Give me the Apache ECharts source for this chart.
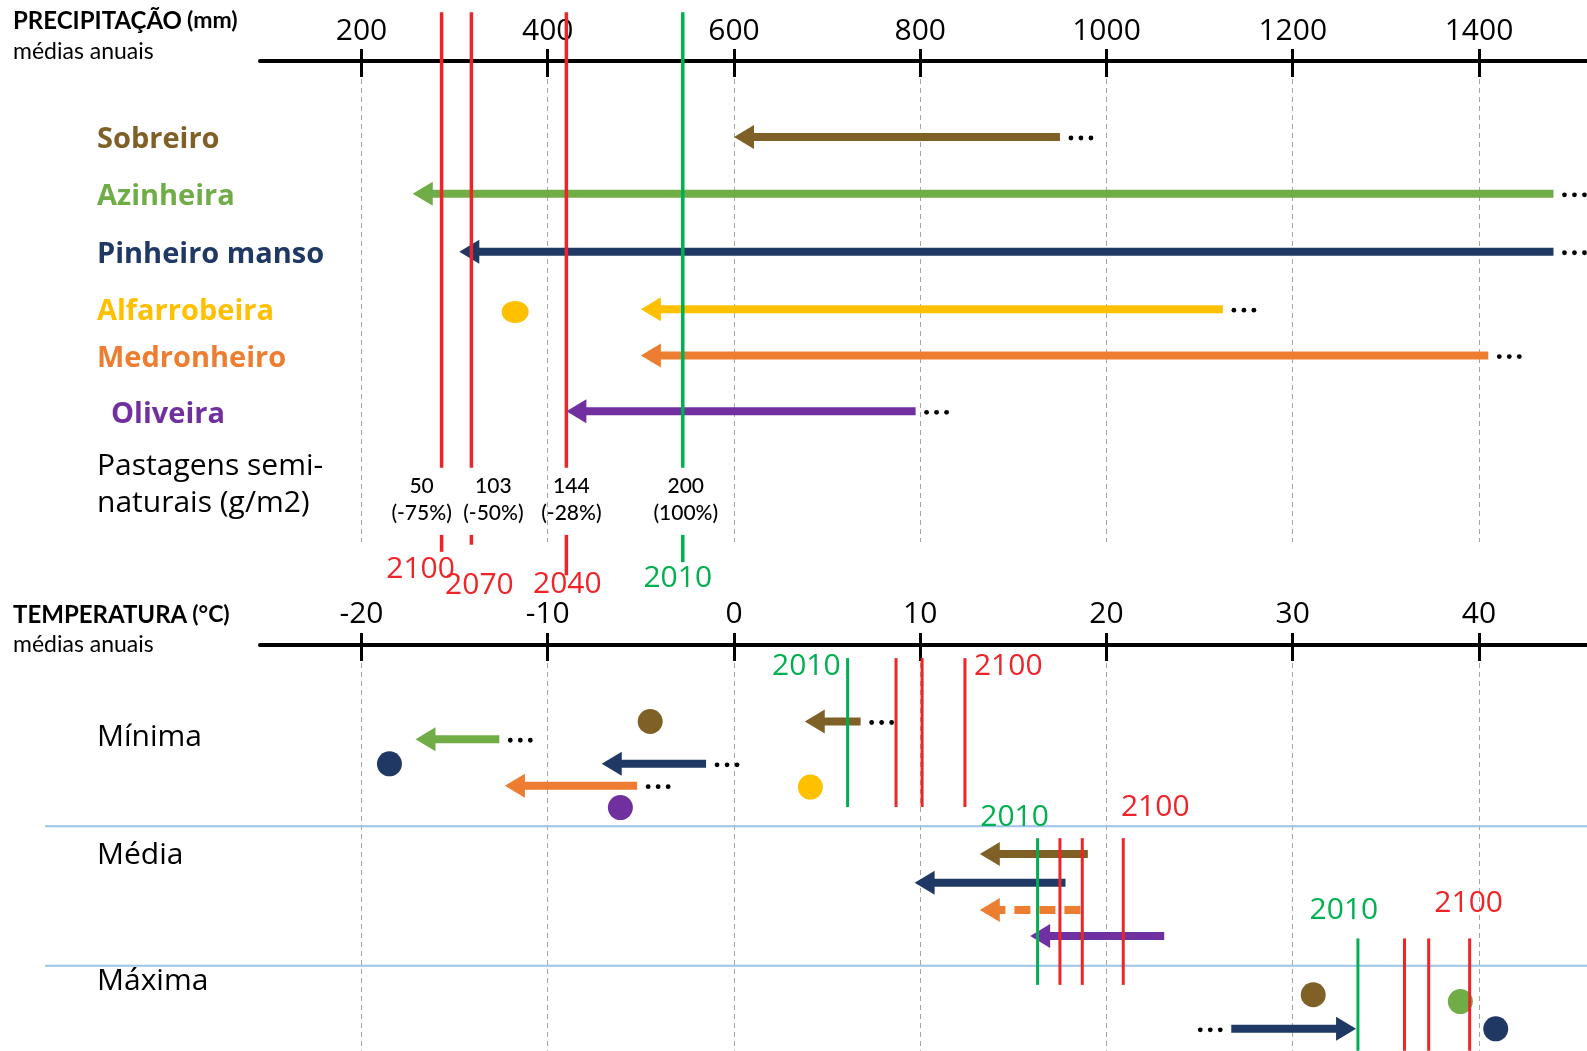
<!DOCTYPE html>
<html><head><meta charset="utf-8">
<script src="https://cdn.jsdelivr.net/npm/echarts@6/dist/echarts.min.js"></script>
<style>html,body{margin:0;padding:0;background:#fff}#c{width:1587px;height:1051px}</style>
</head><body><div id="c"></div>
<script>
// ================= DATA =================
const precipTicks = [200, 400, 600, 800, 1000, 1200, 1400];
const tempTicks = [-20, -10, 0, 10, 20, 30, 40];
const species = ['Sobreiro', 'Azinheira', 'Pinheiro manso', 'Alfarrobeira', 'Medronheiro', 'Oliveira'];
const speciesRow = [1, 2.04, 3.1, 4.15, 5, 6.02];
// precipitation (mm): upper value (open-ended "...") -> lower limit (arrow head)
const precipUpper = [950, 1480, 1480, 1125, 1410, 795];
const precipLower = [600, 255, 305, 500, 500, 420];
// isolated points: [species, mm, row]
const precipDots = [[3, 365, 4.2]];
// Pastagens semi-naturais (g/m2)
const pastYears = ['2100', '2070', '2040', '2010'];
const pastValues = [50, 103, 144, 200];
const pastChange = ['-75%', '-50%', '-28%', '100%'];
const pastPosition = [286, 318, 420, 545];
// Temperature
const sectionNames = ['Mínima', 'Média', 'Máxima'];
const sectionRow = [3.37, 7.7, 12.33];
// arrows: [species, from °C, to °C (head), row, open-ended, dashed]
const tempMinArrows = [[0, 6.8, 3.8, 2.8, 1, 0], [1, -12.6, -17.1, 3.45, 1, 0], [2, -1.5, -7.1, 4.35, 1, 0], [4, -5.2, -12.3, 5.15, 1, 0]];
const tempMeanArrows = [[0, 19.0, 13.2, 7.65, 0, 0], [2, 17.8, 9.7, 8.7, 0, 0], [4, 18.6, 13.2, 9.7, 0, 1], [5, 23.1, 15.9, 10.65, 0, 0]];
const tempMaxArrows = [[2, 26.7, 33.4, 14.05, 1, 0]];
// points: [species, °C, row]
const tempMinDots = [[0, -4.5, 2.8], [2, -18.5, 4.35], [3, 4.1, 5.2], [5, -6.1, 5.95]];
const tempMaxDots = [[0, 31.1, 12.8], [1, 39.0, 13.05], [2, 40.9, 14.05]];
// reference lines (°C): 2010 then three future periods up to 2100
const yearLabels = ['2010', '2100'];
const yearMin = [6.1, 8.7, 10.1, 12.4];
const yearMean = [16.3, 17.5, 18.7, 20.9];
const yearMax = [33.5, 36.0, 37.3, 39.5];
const separatorRows = [6.63, 11.74];

// ================= STYLE / LAYOUT =================
const speciesColors = ['#7F6027', '#70AD47', '#203864', '#FFC000', '#ED7D31', '#7030A0'];
const RED = '#EE2429', GREEN = '#00B050';
const GRID_L = 260, GRID_R = 0;
const P_MIN = 91, P_MAX = 1516;
const T_MIN = (P_MIN - 600) / 20, T_MAX = (P_MAX - 600) / 20;
const FONT = '"Open Sans", "Noto Sans", sans-serif';
const PAST_ROW = 7.36;
const PL = { top: -1.28, gapTop: 7.05, gapBot: 8.28, ends: [8.59, 8.46, 9.02, 8.78],
  valRow: 7.64, valDx: [-20, 22, 5, 3], yearRow: [8.92, 9.2, 9.18, 9.07], yearDx: [-21, 8, 1, -5] };
const SPANS = { min: [0.48, 5.93], mean: [7.07, 12.44], max: [10.74, 14.85] };
const YL = {
  min: [{ dx: -7, dy: 8, align: 'right' }, { dx: 9, dy: 8, align: 'left' }],
  mean: [{ dx: -23, dy: -21, align: 'center' }, { dx: 32, dy: -31, align: 'center' }],
  max: [{ dx: -14, dy: -28, align: 'center' }, { dx: -1, dy: -35, align: 'center' }]
};

function arrowRender(params, api) {
  const sp = api.value(0), from = api.value(1), to = api.value(2), row = api.value(3);
  const open = api.value(4), dashed = api.value(5);
  const a = api.coord([from, row]), b = api.coord([to, row]);
  const d = Math.sign(b[0] - a[0]) || 1;
  const color = speciesColors[sp];
  const HL = 20, HW = 12, SW = 8;
  const ch = [
    { type: 'line', shape: { x1: a[0], y1: a[1], x2: b[0] - d * (HL - 2), y2: b[1] },
      style: { stroke: color, lineWidth: SW, lineDash: dashed ? [16, 9] : null } },
    { type: 'polygon', shape: { points: [[b[0], b[1]], [b[0] - d * HL, b[1] - HW], [b[0] - d * HL, b[1] + HW]] },
      style: { fill: color } }
  ];
  if (open) {
    for (let k = 0; k < 3; k++) {
      ch.push({ type: 'circle', shape: { cx: a[0] - d * (11 + 10 * k), cy: a[1] + 1, r: 2.4 }, style: { fill: '#000' } });
    }
  }
  return { type: 'group', children: ch };
}

function yearLineSeries(xs, span, lab) {
  return {
    type: 'custom', xAxisIndex: 2, yAxisIndex: 1, z: 6, clip: false, silent: true,
    data: xs.map((x, i) => [x, span[0], i]),
    encode: { x: 0, y: 1 },
    renderItem(params, api) {
      const i = api.value(2), x = api.value(0);
      const p1 = api.coord([x, span[0]]), p2 = api.coord([x, span[1]]);
      const col = i === 0 ? GREEN : RED;
      const ch = [{ type: 'line', shape: { x1: p1[0], y1: p1[1], x2: p2[0], y2: p2[1] }, style: { stroke: col, lineWidth: 3 } }];
      if (i === 0 || i === xs.length - 1) {
        const L = lab[i === 0 ? 0 : 1];
        ch.push({ type: 'text', x: p1[0] + L.dx, y: p1[1] + L.dy,
          style: { text: yearLabels[i === 0 ? 0 : 1], fill: col, fontSize: 30, fontFamily: FONT, align: L.align, verticalAlign: 'middle' } });
      }
      return { type: 'group', children: ch };
    }
  };
}

const chart = echarts.init(document.getElementById('c'));
const axisBase = { axisLine: { show: true, onZero: false, lineStyle: { color: '#000', width: 4 } } };
const plain = v => String(v);
const headRich = { a: { fontFamily: 'Lato', fontWeight: 'bold', fontSize: 24, color: '#000' }, b: { fontFamily: 'Lato', fontSize: 23, color: '#000' } };

chart.setOption({
  animation: false,
  backgroundColor: '#fff',
  title: [
    { text: '{a|PRECIPITAÇÃO} {b|(mm)}', left: 13, top: 9, padding: 0, textStyle: { rich: headRich } },
    { text: 'médias anuais', left: 13, top: 40, padding: 0, textStyle: { fontFamily: 'Lato', fontSize: 23, fontWeight: 'normal', color: '#000' } },
    { text: '{a|TEMPERATURA} {b|(°C)}', left: 13, top: 603, padding: 0, textStyle: { rich: headRich } },
    { text: 'médias anuais', left: 13, top: 633, padding: 0, textStyle: { fontFamily: 'Lato', fontSize: 23, fontWeight: 'normal', color: '#000' } }
  ],
  grid: [
    { left: GRID_L, right: GRID_R, top: 61, height: 481, containLabel: false, outerBoundsMode: 'none' },
    { left: GRID_L, right: GRID_R, top: 645, height: 406, containLabel: false, outerBoundsMode: 'none' }
  ],
  xAxis: [
    { type: 'value', gridIndex: 0, position: 'top', min: P_MIN, max: P_MAX, ...axisBase,
      axisTick: { show: true, inside: true, length: 16, customValues: precipTicks, lineStyle: { color: '#000', width: 3 } },
      axisLabel: { customValues: precipTicks, formatter: plain, fontSize: 30, fontFamily: FONT, color: '#000', margin: 15 },
      splitLine: { show: true, lineStyle: { color: '#A6A6A6', width: 1, type: [5, 4] } } },
    { type: 'value', gridIndex: 0, position: 'top', min: P_MIN, max: P_MAX,
      axisLine: { show: false, onZero: false }, axisLabel: { show: false }, splitLine: { show: false },
      axisTick: { show: true, inside: false, length: 12, customValues: precipTicks, lineStyle: { color: '#000', width: 3 } } },
    { type: 'value', gridIndex: 1, position: 'top', min: T_MIN, max: T_MAX, ...axisBase,
      axisTick: { show: true, inside: true, length: 16, customValues: tempTicks, lineStyle: { color: '#000', width: 3 } },
      axisLabel: { customValues: tempTicks, formatter: plain, fontSize: 30, fontFamily: FONT, color: '#000', margin: 16 },
      splitLine: { show: true, lineStyle: { color: '#A6A6A6', width: 1, type: [5, 4] } } },
    { type: 'value', gridIndex: 1, position: 'top', min: T_MIN, max: T_MAX,
      axisLine: { show: false, onZero: false }, axisLabel: { show: false }, splitLine: { show: false },
      axisTick: { show: true, inside: false, length: 12, customValues: tempTicks, lineStyle: { color: '#000', width: 3 } } }
  ],
  yAxis: [
    { type: 'value', gridIndex: 0, inverse: true, min: -0.39, max: 8.41,
      axisLine: { show: false, onZero: false }, axisTick: { show: false }, splitLine: { show: false },
      axisLabel: {
        customValues: speciesRow.concat([PAST_ROW]), align: 'left', margin: 163,
        formatter: v => {
          const i = speciesRow.findIndex(r => Math.abs(r - v) < 1e-6);
          if (i >= 0) return '{s' + i + '|' + species[i] + '}';
          return '{p|Pastagens semi-}\n{p|naturais (g/m2)}';
        },
        rich: Object.assign({
          p: { color: '#000', fontSize: 30, lineHeight: 37, fontFamily: FONT }
        }, ...species.map((s, i) => ({ ['s' + i]: { color: speciesColors[i], fontSize: 29, fontWeight: 'bold', fontFamily: FONT, padding: i === 5 ? [6, 0, 0, 14] : [6, 0, 0, 0] } })))
      } },
    { type: 'value', gridIndex: 1, inverse: true, min: 0, max: 14.86,
      axisLine: { show: false, onZero: false }, axisTick: { show: false }, splitLine: { show: false },
      axisLabel: {
        customValues: sectionRow, align: 'left', margin: 163, color: '#000', fontSize: 30, fontFamily: FONT,
        formatter: v => sectionNames[sectionRow.findIndex(r => Math.abs(r - v) < 1e-6)] || ''
      } }
  ],
  series: [
    { type: 'custom', name: 'precip', xAxisIndex: 0, yAxisIndex: 0, z: 3, clip: false, silent: true,
      data: species.map((s, i) => [i, precipUpper[i], precipLower[i], speciesRow[i], 1, 0]),
      encode: { x: [1, 2], y: 3 }, renderItem: arrowRender },
    { type: 'scatter', xAxisIndex: 0, yAxisIndex: 0, z: 3, silent: true, symbol: 'circle', symbolSize: [27, 22],
      data: precipDots.map(d => [d[1], d[2], d[0]]),
      itemStyle: { opacity: 1, color: p => speciesColors[p.data[2]] } },
    { type: 'custom', name: 'pastagens', xAxisIndex: 0, yAxisIndex: 0, z: 6, clip: false, silent: true,
      data: pastPosition.map((p, i) => [p, PL.top, i]), encode: { x: 0, y: 1 },
      renderItem(params, api) {
        const pos = api.value(0), i = api.value(2);
        const col = i === pastPosition.length - 1 ? GREEN : RED;
        const t = api.coord([pos, PL.top]), a = api.coord([pos, PL.gapTop]);
        const b = api.coord([pos, PL.gapBot]), e = api.coord([pos, PL.ends[i]]);
        const v = api.coord([pos, PL.valRow]), y = api.coord([pos, PL.yearRow[i]]);
        return { type: 'group', children: [
          { type: 'line', shape: { x1: t[0], y1: t[1], x2: a[0], y2: a[1] }, style: { stroke: col, lineWidth: 3.5 } },
          { type: 'line', shape: { x1: b[0], y1: b[1], x2: e[0], y2: e[1] }, style: { stroke: col, lineWidth: 3.5 } },
          { type: 'text', x: v[0] + PL.valDx[i], y: v[1],
            style: { text: pastValues[i] + '\n(' + pastChange[i] + ')', fill: '#000', fontSize: 21, fontWeight: 500, lineHeight: 27, fontFamily: 'Lato', align: 'center', verticalAlign: 'middle' } },
          { type: 'text', x: y[0] + PL.yearDx[i], y: y[1],
            style: { text: pastYears[i], fill: col, fontSize: 30, fontFamily: FONT, align: 'center', verticalAlign: 'middle' } }
        ] };
      } },
    { type: 'custom', name: 'separators', xAxisIndex: 2, yAxisIndex: 1, z: 1, clip: false, silent: true,
      data: separatorRows.map(r => [0, r]), encode: { x: 0, y: 1 },
      renderItem(params, api) {
        const y = api.coord([0, api.value(1)])[1];
        const cs = params.coordSys;
        return { type: 'line', shape: { x1: cs.x - 215, y1: y, x2: cs.x + cs.width, y2: y }, style: { stroke: '#9DC3E6', lineWidth: 2 } };
      } },
    { type: 'custom', name: 'temp', xAxisIndex: 2, yAxisIndex: 1, z: 3, clip: false, silent: true,
      data: tempMinArrows.concat(tempMeanArrows, tempMaxArrows),
      encode: { x: [1, 2], y: 3 }, renderItem: arrowRender },
    { type: 'scatter', xAxisIndex: 2, yAxisIndex: 1, z: 3, silent: true, symbol: 'circle', symbolSize: 25,
      data: tempMinDots.concat(tempMaxDots).map(d => [d[1], d[2], d[0]]),
      itemStyle: { opacity: 1, color: p => speciesColors[p.data[2]] } },
    yearLineSeries(yearMin, SPANS.min, YL.min),
    yearLineSeries(yearMean, SPANS.mean, YL.mean),
    yearLineSeries(yearMax, SPANS.max, YL.max)
  ]
});
</script>
</body></html>
